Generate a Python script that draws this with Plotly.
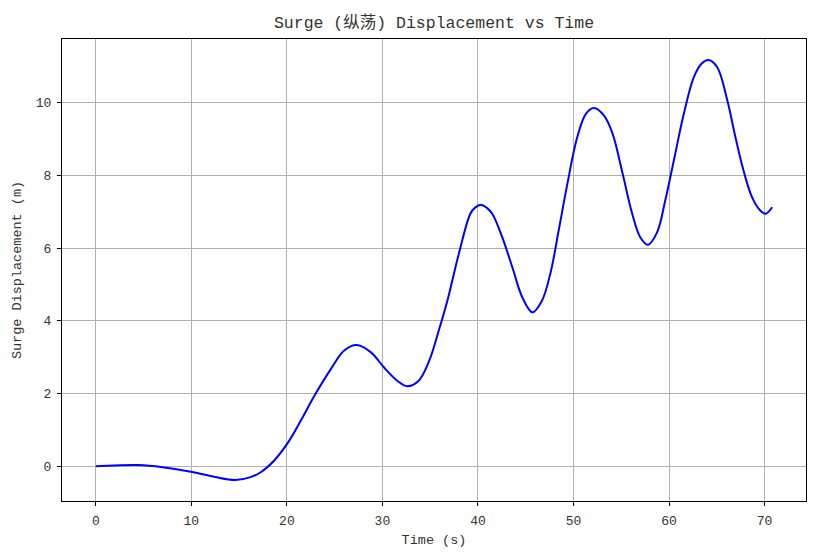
import plotly.graph_objects as go

# surge displacement
time_s = [0, 2, 4.4, 7, 10.1, 12.5, 14.6, 16.2, 17.3, 18.65, 20.15, 21.45, 23.0,
          24.6, 26.0, 27.3, 28.8, 30.15, 31.55, 32.6, 33.8, 34.9, 35.9, 36.8,
          38.0, 39.2, 39.7, 40.3, 40.9, 41.5, 42.55, 43.6, 44.65, 45.7, 46.7, 47.6,
          48.45, 49.35, 50.4, 51.3, 52.15, 53.2, 54.1, 55.15, 56.15, 57.0, 57.8,
          58.75, 59.6, 60.5, 61.55, 62.6, 63.45, 64.15, 65.05, 66.1, 66.95, 67.8,
          68.7, 69.55, 70.1, 70.8]
surge_m = [0.0, 0.02, 0.03, -0.03, -0.16, -0.3, -0.38, -0.3, -0.16, 0.15, 0.66,
           1.25, 1.99, 2.67, 3.18, 3.33, 3.13, 2.72, 2.35, 2.2, 2.35, 2.9, 3.73,
           4.55, 5.84, 6.94, 7.11, 7.19, 7.11, 6.94, 6.29, 5.47, 4.64, 4.23, 4.55,
           5.32, 6.48, 7.75, 9.05, 9.69, 9.85, 9.64, 9.14, 8.04, 6.94, 6.29, 6.09,
           6.43, 7.3, 8.4, 9.69, 10.7, 11.08, 11.17, 10.97, 10.06, 9.05, 8.13, 7.39,
           7.03, 6.94, 7.12]

x_ticks = [0, 10, 20, 30, 40, 50, 60, 70]
y_ticks = [0, 2, 4, 6, 8, 10]

FONT = "Liberation Mono, Noto Sans CJK SC, monospace"

# matplotlib-like 5% margins
xspan = max(time_s) - min(time_s)
yspan = max(surge_m) - min(surge_m)
xrange_ = [min(time_s) - 0.05 * xspan, max(time_s) + 0.05 * xspan]
yrange_ = [min(surge_m) - 0.05 * yspan, max(surge_m) + 0.05 * yspan]

fig = go.Figure()
fig.add_trace(go.Scatter(x=time_s, y=surge_m, mode="lines",
                         line=dict(color="blue", width=2, shape="spline", smoothing=1.0),
                         showlegend=False))

axis_style = dict(showline=True, linecolor="black", linewidth=1.2, mirror=True,
                  ticks="outside", ticklen=4, tickcolor="black", tickwidth=1,
                  ticklabelstandoff=3,
                  showgrid=True, gridcolor="#b0b0b0", gridwidth=1, zeroline=False,
                  automargin=False,
                  tickfont=dict(family=FONT, size=13, color="#333"))

fig.update_xaxes(range=xrange_, tickvals=x_ticks, **axis_style,
                 title=dict(text="Time (s)", font=dict(family=FONT, size=13.5, color="#333"),
                            standoff=6))
fig.update_yaxes(range=yrange_, tickvals=y_ticks, **axis_style,
                 title=dict(text="Surge Displacement (m)",
                            font=dict(family=FONT, size=13.5, color="#333"), standoff=10))

# page body has an 8px margin, so the figure is shifted and trimmed to fit
fig.update_layout(
    width=809, height=550,
    margin=dict(l=54, r=11, t=31, b=57, autoexpand=False),
    paper_bgcolor="white", plot_bgcolor="white",
    title=dict(text="Surge (纵荡) Displacement vs Time", x=0.5, xref="paper",
               y=1 - 14 / 550, yanchor="middle",
               font=dict(family=FONT, size=16.5, color="#333")),
)

fig.write_html("out.html")
